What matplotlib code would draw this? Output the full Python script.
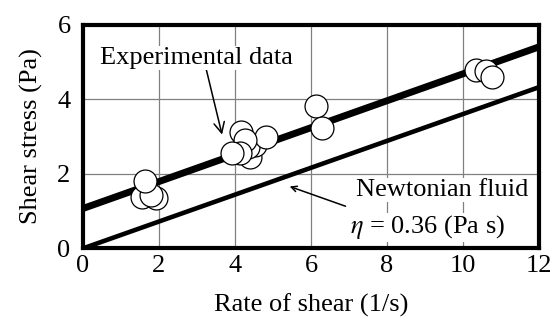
import matplotlib
matplotlib.use("Agg")
import matplotlib.pyplot as plt

plt.rcParams['font.family'] = 'Liberation Serif'
plt.rcParams['mathtext.fontset'] = 'stix'

# measured points (rate of shear, shear stress), back to front
shear_rate = [1.54, 1.93, 1.80, 1.64,
              4.39, 4.52, 4.35, 4.83, 4.17, 4.26, 4.13, 3.91,
              6.12, 6.30, 10.34, 10.60, 10.76]
shear_stress = [1.39, 1.34, 1.43, 1.80,
                2.45, 2.77, 2.72, 2.99, 3.12, 2.90, 2.55, 2.55,
                3.81, 3.23, 4.78, 4.75, 4.60]

# fitted lines
fit_x = [0, 12]
fit_y = [1.07, 5.40]
newton_x = [0, 12]
newton_y = [0.0, 4.32]

fs = 19

fig = plt.figure(figsize=(5.59, 3.23), dpi=100)
ax = fig.add_axes([0.1485, 0.231, 0.8155, 0.693])

ax.plot(fit_x, fit_y, color='black', lw=5, zorder=3, solid_capstyle='butt')
ax.plot(newton_x, newton_y, color='black', lw=3.3, zorder=3, solid_capstyle='butt')
for x, y in zip(shear_rate, shear_stress):
    ax.plot(x, y, 'o', ms=16.5, mfc='white', mec='black', mew=0.9, zorder=4)

ax.set_xlim(0, 12)
ax.set_ylim(0, 6)
ax.set_xticks([0, 2, 4, 6, 8, 10, 12])
ax.set_yticks([0, 2, 4, 6])
ax.tick_params(length=0, labelsize=fs, pad=5)
ax.tick_params(axis='y', pad=9)
ax.grid(True, color='#808080', lw=0.9)
ax.set_axisbelow(True)
for s in ax.spines.values():
    s.set_linewidth(3)
    s.set_zorder(5)

ax.set_xlabel('Rate of shear (1/s)', fontsize=fs, labelpad=12)
ax.set_ylabel('Shear stress (Pa)', fontsize=fs, labelpad=10)

ax.annotate('Experimental data', xy=(3.66, 3.05), xytext=(0.45, 5.1),
            fontsize=fs, va='center', ha='left',
            arrowprops=dict(arrowstyle='->', color='black', lw=1.1,
                            shrinkA=0, shrinkB=0, relpos=(0.55, 0.0)),
            bbox=dict(fc='white', ec='none', pad=0.5))
ax.text(7.18, 1.56, 'Newtonian fluid', fontsize=fs, va='center', ha='left',
        bbox=dict(fc='white', ec='none', pad=0.5), zorder=6)
ax.annotate('', xy=(5.44, 1.66), xytext=(6.91, 1.13),
            arrowprops=dict(arrowstyle='->', color='black', lw=1.1,
                            shrinkA=0, shrinkB=0))
ax.text(7.02, 0.56, r'$\eta$ = 0.36 (Pa s)', fontsize=fs, va='center', ha='left',
        bbox=dict(fc='white', ec='none', pad=0.5), zorder=6)

fig.savefig('out.png', dpi=100)
